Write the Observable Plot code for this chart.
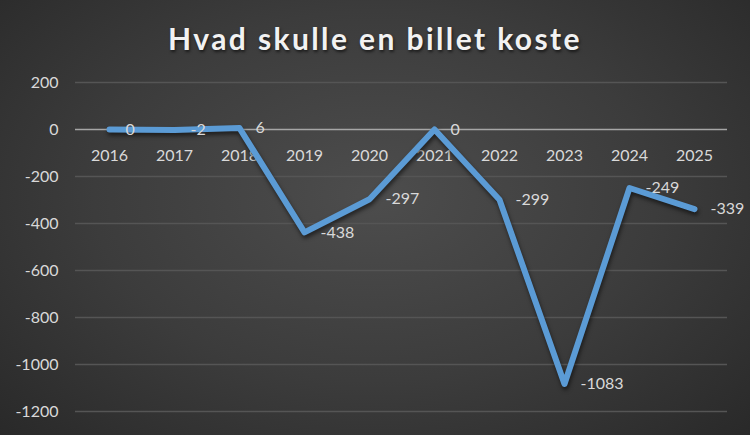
<!DOCTYPE html>
<html>
<head>
<meta charset="utf-8">
<script src="https://cdn.jsdelivr.net/npm/d3@7"></script>
<script src="https://cdn.jsdelivr.net/npm/@observablehq/plot@0.6"></script>
<style>
  html, body { margin: 0; padding: 0; background: #2b2b2b; }
  #wrap {
    position: relative; width: 750px; height: 435px; overflow: hidden;
    background: radial-gradient(ellipse 75% 85% at 50% 45%, #4d4d4d 0%, #3c3c3c 50%, #262626 100%);
    font-family: Lato, "Open Sans", sans-serif;
  }
  #title {
    position: absolute; left: 0; top: 20px; width: 750px; text-align: center;
    color: #f2f2f2; font-size: 30px; font-weight: bold; letter-spacing: 2.4px;
    text-shadow: 1px 2px 3px rgba(0,0,0,0.6);
  }
  #chart { position: absolute; left: 0; top: 0; }
</style>
</head>
<body>
<div id="wrap">
  <div id="chart"></div>
  <div id="title">Hvad skulle en billet koste</div>
</div>
<script>
const years = ["2016","2017","2018","2019","2020","2021","2022","2023","2024","2025"];
const values = [0, -2, 6, -438, -297, 0, -299, -1083, -249, -339];
const yTicks = [200, 0, -200, -400, -600, -800, -1000, -1200];

const data = years.map((y, i) => ({year: y, value: values[i]}));
const grid = yTicks.filter(t => t !== 0);

const chart = Plot.plot({
  width: 750,
  height: 435,
  marginTop: 82,
  marginBottom: 24,
  marginLeft: 75,
  marginRight: 23,
  style: {background: "transparent", fontFamily: "Lato, 'Open Sans', sans-serif"},
  x: {type: "point", domain: years, padding: 0.5, axis: null},
  y: {domain: [-1200, 200], ticks: yTicks, tickSize: 0, tickPadding: 17, label: null, tickFormat: d => String(d)},
  marks: [
    Plot.axisY({ticks: yTicks, tickSize: 0, tickPadding: 17, fontSize: 16, fill: "#d9d9d9", tickFormat: d => String(d)}),
    Plot.ruleY(grid, {stroke: "#555555", strokeWidth: 1.5}),
    Plot.ruleY([0], {stroke: "#a6a6a6", strokeWidth: 1.5}),
    Plot.text(data, {x: "year", y: () => 0, text: "year", dy: 26, fontSize: 16, fill: "#d9d9d9"}),
    Plot.line(data, {x: "year", y: "value", stroke: "#5b9bd5", strokeWidth: 6, strokeLinejoin: "round", strokeLinecap: "round"}),
    Plot.text(data, {x: "year", y: "value", text: d => String(d.value), textAnchor: "start", dx: 16, fontSize: 16, fill: "#d9d9d9"})
  ]
});
chart.querySelectorAll("g[aria-label='line'] path").forEach(p => p.style.filter = "drop-shadow(1px 3px 2px rgba(0,0,0,0.55))");
document.getElementById("chart").appendChild(chart);
</script>
</body>
</html>
